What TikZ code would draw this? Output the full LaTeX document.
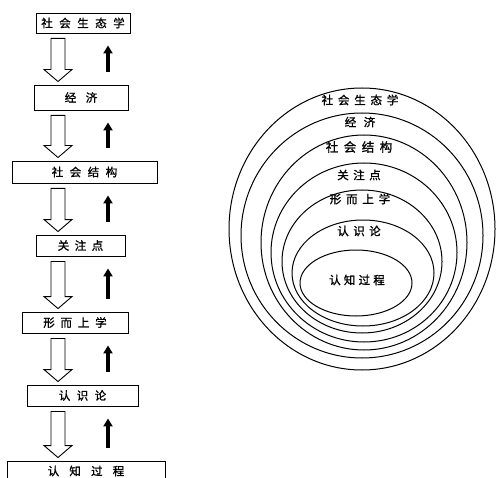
\documentclass[tikz,border=0pt]{standalone}
\usepackage{fontspec}
\newfontfamily\cjk[FakeBold=1.2]{Noto Sans CJK SC}
\usetikzlibrary{arrows.meta,calc}
\begin{document}
\begin{tikzpicture}[x=1pt,y=-1pt,
  box/.style={draw,line width=0.9pt,inner sep=0pt,font=\cjk\fontsize{11.5}{11.5}\selectfont},
  lab/.style={inner sep=0pt,font=\cjk\fontsize{11.5}{11.5}\selectfont},
  ring/.style={line width=1pt},
  hollow/.style={draw,line width=0.9pt,fill=white,line join=miter},
  blk/.style={line width=3.6pt,-{Triangle[width=9pt,length=8pt]}}]
\useasboundingbox (0,0) rectangle (497,478);
\clip (0,0) rectangle (497,478);
% left column boxes
\node[box,minimum width=94pt,minimum height=20pt] (b1) at (83,23) {社\kern6.5pt 会\kern6.5pt 生\kern6.5pt 态\kern6.5pt 学};
\node[box,minimum width=94pt,minimum height=25pt] (b2) at (81,97.5) {经\kern9.5pt 济};
\node[box,minimum width=145pt,minimum height=22pt] (b3) at (84.5,172) {社\kern6.5pt 会\kern6.5pt 结\kern6.5pt 构};
\node[box,minimum width=89pt,minimum height=21pt] (b4) at (80.5,245.5) {关\kern5.5pt 注\kern5.5pt 点};
\node[box,minimum width=106pt,minimum height=21pt] (b5) at (75,322.5) {形\kern5.8pt 而\kern5.8pt 上\kern5.8pt 学};
\node[box,minimum width=111pt,minimum height=21pt] (b6) at (82.5,395.5) {认\kern6.5pt 识\kern6.5pt 论};
\node[box,minimum width=158pt,minimum height=20pt] (b7) at (86,471) {认\kern10.2pt 知\kern10.2pt 过\kern10.2pt 程};
% hollow downward arrows and black upward arrows between boxes
\foreach \a/\b in {b1/b2,b2/b3,b3/b4,b4/b5,b5/b6,b6/b7}{
  \path[hollow] let \p1=(\a.south), \p2=(\b.north) in
    (51pt,\y1-5pt) -- (65pt,\y1-5pt) -- (65pt,\y2+15pt) -- (72pt,\y2+15pt)
    -- (58pt,\y2+3pt) -- (44pt,\y2+15pt) -- (51pt,\y2+15pt) -- cycle;
  \draw[blk] let \p1=(\a.south), \p2=(\b.north) in
    (108pt,\y2+13pt) -- (108pt,\y1-12pt);
}
% nested ellipses
\draw[ring] (362,229) ellipse [x radius=133pt, y radius=141pt];
\draw[ring] (362,235.5) ellipse [x radius=121pt, y radius=122.5pt];
\draw[ring] (364,242.5) ellipse [x radius=103pt, y radius=107.5pt];
\draw[ring] (364,252.5) ellipse [x radius=93pt, y radius=89.5pt];
\draw[ring] (362,261.5) ellipse [x radius=80pt, y radius=71.5pt];
\draw[ring] (363,273) ellipse [x radius=71pt, y radius=53pt];
\draw[ring] (356,283) ellipse [x radius=56pt, y radius=33pt];
% ring labels
\node[lab] (l1) at (360,100) {社\kern4.8pt 会\kern4.8pt 生\kern4.8pt 态\kern4.8pt 学};
\node[lab] (l2) at (360,122) {经\kern7.5pt 济};
\node[lab,font=\cjk\fontsize{12.5}{12.5}\selectfont] (l3) at (359,147) {社\kern5.5pt 会\kern5.5pt 结\kern5.5pt 构};
\node[lab] (l4) at (359,175) {关\kern4.5pt 注\kern4.5pt 点};
\node[lab] (l5) at (360,199) {形\kern4.8pt 而\kern4.8pt 上\kern4.8pt 学};
\node[lab] (l6) at (359,231) {认\kern4.5pt 识\kern4.5pt 论};
\node[lab] (l7) at (357,280) {认\kern3.2pt 知\kern3.2pt 过\kern3.2pt 程};
\end{tikzpicture}
\end{document}
